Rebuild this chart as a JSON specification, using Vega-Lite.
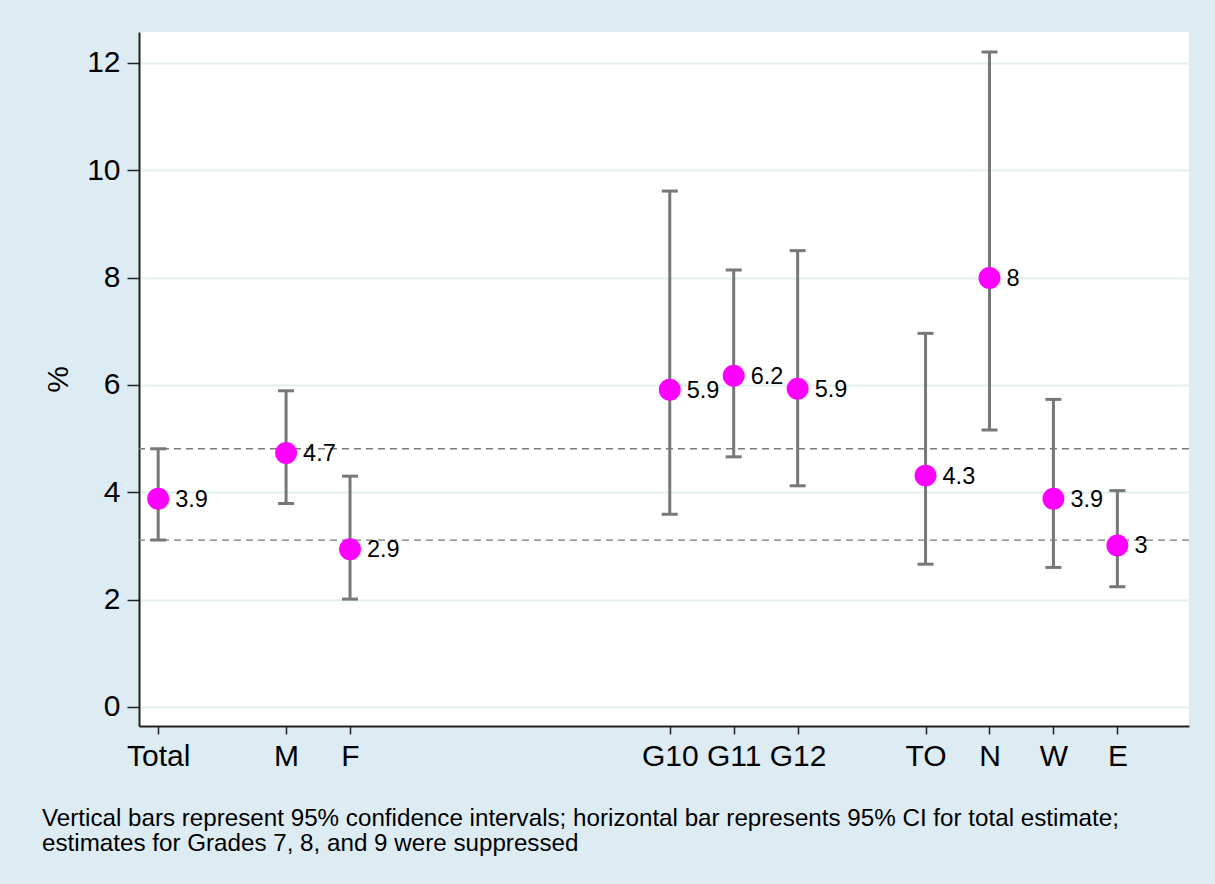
{
  "$schema": "https://vega.github.io/schema/vega-lite/v6.json",
  "width": 1050,
  "height": 694,
  "autosize": "none",
  "padding": {"left": 139, "top": 32, "right": 26, "bottom": 158},
  "background": "#ddecf3",
  "config": {
    "view": {"fill": "white", "stroke": null},
    "font": "Liberation Sans",
    "axis": {
      "domainColor": "#222222",
      "domainWidth": 2,
      "tickColor": "#222222",
      "tickWidth": 1.5,
      "labelColor": "black",
      "labelFont": "Liberation Sans",
      "labelFontSize": 30,
      "titleFont": "Liberation Sans",
      "titleFontSize": 30,
      "titleFontWeight": "normal",
      "titleColor": "black"
    }
  },
  "datasets": {
    "est": [
      {"label": "Total", "pos": 1, "est": 3.88, "lo": 3.11, "hi": 4.81},
      {"label": "M", "pos": 3, "est": 4.73, "lo": 3.79, "hi": 5.89},
      {"label": "F", "pos": 4, "est": 2.94, "lo": 2.01, "hi": 4.30},
      {"label": "G10", "pos": 9, "est": 5.91, "lo": 3.59, "hi": 9.61},
      {"label": "G11", "pos": 10, "est": 6.17, "lo": 4.66, "hi": 8.14},
      {"label": "G12", "pos": 11, "est": 5.93, "lo": 4.12, "hi": 8.50},
      {"label": "TO", "pos": 13, "est": 4.31, "lo": 2.66, "hi": 6.96},
      {"label": "N", "pos": 14, "est": 7.99, "lo": 5.16, "hi": 12.20},
      {"label": "W", "pos": 15, "est": 3.88, "lo": 2.60, "hi": 5.73},
      {"label": "E", "pos": 16, "est": 3.01, "lo": 2.24, "hi": 4.03}
    ],
    "ci": [
      {"bound": "lower", "value": 3.11},
      {"bound": "upper", "value": 4.81}
    ]
  },
  "title": {
    "text": [
      "Vertical bars represent 95% confidence intervals; horizontal bar represents 95% CI for total estimate;",
      "estimates for Grades 7, 8, and 9 were suppressed"
    ],
    "orient": "bottom",
    "anchor": "start",
    "frame": "group",
    "dx": -97,
    "offset": 36,
    "fontSize": 24.2,
    "lineHeight": 25,
    "fontWeight": "normal",
    "color": "black",
    "font": "Liberation Sans"
  },
  "layer": [
    {
      "data": {"name": "est"},
      "mark": {"type": "rule", "color": "#777777", "strokeWidth": 3},
      "encoding": {
        "x": {
          "field": "pos",
          "type": "quantitative",
          "scale": {"domain": [0.7, 17.12], "nice": false, "zero": false},
          "axis": {
            "title": null,
            "values": [1, 3, 4, 9, 10, 11, 13, 14, 15, 16],
            "labelExpr": "['', 'Total', '', 'M', 'F', '', '', '', '', 'G10', 'G11', 'G12', '', 'TO', 'N', 'W', 'E'][datum.value]",
            "tickSize": 8,
            "labelPadding": 7,
            "grid": false,
            "labelFlush": false,
            "labelOverlap": false
          }
        },
        "y": {
          "field": "lo",
          "type": "quantitative",
          "title": "%",
          "scale": {"domain": [-0.354, 12.573], "nice": false, "zero": false},
          "axis": {
            "values": [0, 2, 4, 6, 8, 10, 12],
            "tickSize": 12,
            "labelPadding": 7,
            "grid": true,
            "gridColor": "#e3eef1",
            "gridWidth": 2,
            "titleAngle": -90,
            "titleX": -72,
            "titleBaseline": "alphabetic",
            "labelFlush": false
          }
        },
        "y2": {"field": "hi"}
      }
    },
    {
      "data": {"name": "ci"},
      "mark": {"type": "rule", "color": "#7a7a7a", "strokeWidth": 1.3, "strokeDash": [7, 5]},
      "encoding": {
        "y": {"field": "value", "type": "quantitative", "title": "%"}
      }
    },
    {
      "data": {"name": "est"},
      "mark": {"type": "tick", "orient": "horizontal", "color": "#777777", "size": 16, "thickness": 3, "opacity": 1},
      "encoding": {
        "x": {"field": "pos", "type": "quantitative"},
        "y": {"field": "lo", "type": "quantitative", "title": "%"}
      }
    },
    {
      "data": {"name": "est"},
      "mark": {"type": "tick", "orient": "horizontal", "color": "#777777", "size": 16, "thickness": 3, "opacity": 1},
      "encoding": {
        "x": {"field": "pos", "type": "quantitative"},
        "y": {"field": "hi", "type": "quantitative", "title": "%"}
      }
    },
    {
      "data": {"name": "est"},
      "mark": {"type": "circle", "color": "#ff00ff", "size": 480, "opacity": 1},
      "encoding": {
        "x": {"field": "pos", "type": "quantitative"},
        "y": {"field": "est", "type": "quantitative", "title": "%"}
      }
    },
    {
      "data": {"name": "est"},
      "mark": {"type": "text", "align": "left", "baseline": "middle", "dx": 17, "dy": 1, "fontSize": 23.5, "color": "black", "font": "Liberation Sans"},
      "encoding": {
        "x": {"field": "pos", "type": "quantitative"},
        "y": {"field": "est", "type": "quantitative", "title": "%"},
        "text": {"field": "est", "type": "quantitative", "format": ".1~f"}
      }
    }
  ]
}
